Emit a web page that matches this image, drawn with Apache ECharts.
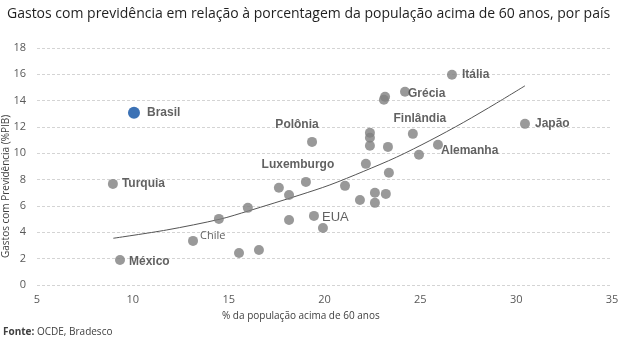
<!DOCTYPE html>
<html>
<head>
<meta charset="utf-8">
<script src="https://cdn.jsdelivr.net/npm/echarts@6/dist/echarts.min.js"></script>
<style>
html,body{margin:0;padding:0;background:#fff;}
#chart{width:640px;height:341px;}
</style>
</head>
<body>
<div id="chart"></div>
<script>
// ---- data ----
const countries = ['Brasil','Turquia','México','Chile','','','','','','','','EUA','','Polônia','Luxemburgo','','','','','','','','','','','','','','Grécia','Finlândia','','Alemanha','Itália','Japão'];
const popOver60 = [10.06, 8.96, 9.33, 13.14, 14.49, 16.0, 15.54, 16.58, 17.62, 18.15, 18.15, 19.45, 19.92, 19.35, 19.03, 21.07, 21.85, 22.63, 22.63, 23.2, 23.36, 22.16, 22.37, 22.37, 22.37, 23.31, 23.1, 23.16, 24.2, 24.61, 24.93, 25.92, 26.65, 30.46];
const pensionSpend = [13.08, 7.68, 1.9, 3.35, 5.02, 5.86, 2.43, 2.66, 7.38, 6.84, 4.94, 5.25, 4.33, 10.87, 7.83, 7.53, 6.46, 7.0, 6.24, 6.92, 8.52, 9.2, 11.56, 11.18, 10.57, 10.49, 14.07, 14.3, 14.68, 11.48, 9.89, 10.65, 15.97, 12.24];
const trendX = [8.98, 11.77, 14.55, 16.02, 18.72, 20.28, 22.02, 23.76, 25.5, 27.24, 28.98, 30.46];
const trendY = [3.55, 4.18, 5.0, 5.62, 6.84, 7.60, 8.62, 9.71, 10.97, 12.34, 13.82, 15.13];
const xTicks = [5, 10, 15, 20, 25, 30, 35];
const yTicks = [0, 2, 4, 6, 8, 10, 12, 14, 16, 18];

// ---- label styling (not data) ----
const labelStyle = {
  'Brasil':     {position:'right', distance:7, offset:[0,0], fontWeight:'bold'},
  'Turquia':    {position:'right', distance:4, offset:[0,0], fontWeight:'bold'},
  'México':     {position:'right', distance:4, offset:[0,2], fontWeight:'bold'},
  'Chile':      {position:'right', distance:2, offset:[0,-5], fontWeight:'normal', fontSize:11, fontFamily:'Open Sans'},
  'EUA':        {position:'right', distance:3, offset:[0,2], fontWeight:'normal', fontSize:13},
  'Polônia':    {position:'top', distance:6, offset:[-15,0], fontWeight:'bold'},
  'Luxemburgo': {position:'top', distance:6, offset:[-8,0], fontWeight:'bold'},
  'Grécia':     {position:'right', distance:-2, offset:[0,2], fontWeight:'bold'},
  'Finlândia':  {position:'top', distance:4, offset:[7,0], fontWeight:'bold'},
  'Alemanha':   {position:'right', distance:-2, offset:[0,6], fontWeight:'bold'},
  'Itália':     {position:'right', distance:5, offset:[0,0], fontWeight:'bold'},
  'Japão':      {position:'right', distance:5, offset:[0,0], fontWeight:'bold'}
};

const pts = popOver60.map((x, i) => {
  const name = countries[i];
  const item = {value: [x, pensionSpend[i]], name: name};
  if (name === 'Brasil') {
    item.itemStyle = {color: '#0b4fa3'};
    item.symbolSize = 12;
  }
  if (name) {
    const s = labelStyle[name];
    item.label = {
      show: true,
      formatter: name,
      position: s.position,
      distance: s.distance,
      offset: s.offset,
      fontWeight: s.fontWeight,
      fontSize: s.fontSize || 12,
      fontFamily: s.fontFamily || 'Liberation Sans',
      color: '#3a3a3a'
    };
  }
  return item;
});

const trend = trendX.map((x, i) => [x, trendY[i]]);

const chart = echarts.init(document.getElementById('chart'), null, {renderer: 'canvas'});
chart.setOption({
  animation: false,
  backgroundColor: '#fff',
  title: {
    text: 'Gastos com previdência em relação à porcentagem da população acima de 60 anos, por país',
    left: 2, top: 2,
    textStyle: {fontSize: 14, fontWeight: 'normal', color: '#1f1f1f', fontFamily: 'Open Sans'}
  },
  grid: {left: 37, right: 28, top: 48, bottom: 56},
  xAxis: {
    type: 'value', min: xTicks[0], max: xTicks[xTicks.length-1], interval: 5,
    axisLine: {show: false}, axisTick: {show: false},
    splitLine: {show: false},
    axisLabel: {color: '#595959', fontSize: 11, fontFamily: 'Open Sans', margin: 9}
  },
  yAxis: {
    type: 'value', min: yTicks[0], max: yTicks[yTicks.length-1], interval: 2,
    axisLine: {show: false}, axisTick: {show: false},
    splitLine: {show: true, lineStyle: {color: '#d4d4d4', type: [3, 2], width: 1}},
    axisLabel: {color: '#595959', fontSize: 11, fontFamily: 'Open Sans', margin: 11}
  },
  graphic: [
    {type: 'text', left: 222, top: 311, style: {text: '% da população acima de 60 anos', fontSize: 10, fontFamily: 'Open Sans', fill: '#404040'}},
    {type: 'text', x: 1, y: 258, rotation: Math.PI/2, style: {text: 'Gastos com Previdência (%PIB)', fontSize: 10, fontFamily: 'Open Sans', fill: '#404040'}},
    {type: 'text', left: 3, top: 327, style: {
      text: '{b|Fonte:} OCDE, Bradesco',
      rich: {b: {fontWeight: 'bold', fontSize: 10, fontFamily: 'Open Sans', fill: '#404040'}},
      fontSize: 10, fontFamily: 'Open Sans', fill: '#404040'}}
  ],
  series: [
    {
      type: 'line', data: trend, smooth: 0.3, showSymbol: false, silent: true,
      lineStyle: {color: '#555', width: 1}, z: 1
    },
    {
      type: 'scatter', data: pts, symbolSize: 10,
      itemStyle: {color: '#7f7f7f'}, z: 2
    }
  ]
});
</script>
</body>
</html>
